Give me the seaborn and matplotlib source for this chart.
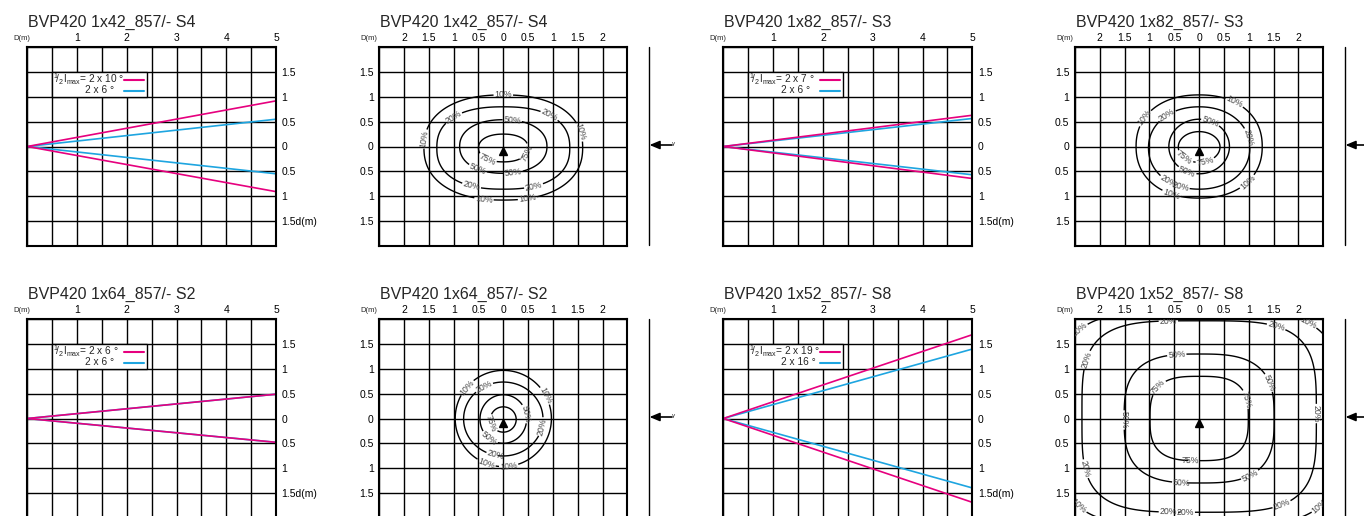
import numpy as np
import matplotlib
matplotlib.use("Agg")
import matplotlib.pyplot as plt
from matplotlib.patches import Rectangle, FancyArrowPatch
from matplotlib.lines import Line2D
import seaborn as sns

# ---- beam spread panels (side view), half-width of the beam at d = 5 m ----
beam_titles = ["BVP420 1x42_857/- S4", "BVP420 1x82_857/- S3",
               "BVP420 1x64_857/- S2", "BVP420 1x52_857/- S8"]
beam_angle_1 = ["2 x 10 °", "2 x 7 °", "2 x 6 °", "2 x 19 °"]
beam_angle_2 = ["2 x 6 °", "2 x 6 °", "2 x 6 °", "2 x 16 °"]
beam_d = [0, 5]
pink_upper = [0.92, 0.63, 0.49, 1.69]
pink_lower = [-0.91, -0.645, -0.48, -1.69]
blue_upper = [0.55, 0.565, 0.49, 1.40]
blue_lower = [-0.55, -0.57, -0.48, -1.40]

# ---- illuminance contour panels (front view) ----
iso_titles = ["BVP420 1x42_857/- S4", "BVP420 1x82_857/- S3",
              "BVP420 1x64_857/- S2", "BVP420 1x52_857/- S8"]
iso_levels = ["10%", "20%", "50%", "75%"]
# half extent in x / y (m), squareness exponent, vertical centre offset
iso_ax = [[1.60, 1.34, 0.88, 0.50],
          [1.27, 1.02, 0.61, 0.42],
          [0.97, 0.80, 0.47, 0.26],
          [2.82, 2.36, 1.51, 0.99]]
iso_by = [[1.06, 0.83, 0.54, 0.28],
          [1.04, 0.83, 0.55, 0.31],
          [0.97, 0.745, 0.49, 0.255],
          [2.16, 1.93, 1.30, 0.85]]
iso_pw = [[2.3, 2.4, 2.2, 2.2],
          [2.2, 2.1, 2.0, 2.0],
          [2.0, 2.0, 2.0, 2.0],
          [4.0, 3.8, 3.0, 3.0]]
iso_cy = [[-0.02, -0.03, 0.0, -0.03],
          [0.0, -0.03, 0.0, -0.01],
          [0.0, -0.01, -0.01, -0.02],
          [0.0, 0.04, 0.0, 0.0]]
# where the percentage labels sit on each curve
iso_label_pos = [
    {"10%": [(0, 1.04), (-1.57, 0.15), (1.52, 0.28), (-0.39, -1.06), (0.48, -0.99)],
     "20%": [(-1.0, 0.58), (0.92, 0.61), (-0.63, -0.75), (0.6, -0.75)],
     "50%": [(0.18, 0.52), (-0.52, -0.46), (0.2, -0.52)],
     "75%": [(-0.32, -0.25), (0.52, -0.15)]},
    {"10%": [(0.69, 0.85), (-1.09, 0.57), (-0.56, -0.96), (0.94, -0.68)],
     "20%": [(-0.66, 0.65), (0.97, 0.18), (-0.62, -0.7), (-0.38, -0.8)],
     "50%": [(0.22, 0.48), (-0.25, -0.52)],
     "75%": [(-0.29, -0.22), (0.11, -0.25)]},
    {"10%": [(-0.74, 0.63), (0.85, 0.46), (-0.36, -0.95), (0.11, -0.97)],
     "20%": [(-0.4, 0.66), (0.79, -0.17), (-0.16, -0.78)],
     "50%": [(0.43, 0.09), (-0.29, -0.41)],
     "75%": [(-0.26, -0.11)]},
    {"10%": [(-2.4, 1.78), (2.17, 1.88), (-2.38, -1.72), (2.37, -1.71)],
     "20%": [(-0.62, 1.95), (1.5, 1.68), (-2.13, 1.14), (2.34, 0.1),
             (-2.23, -1.0), (1.63, -1.65), (-0.62, -1.92), (-0.28, -1.92)],
     "50%": [(-0.45, 1.28), (1.36, 0.7), (-1.56, -0.03), (0.99, -1.08),
             (-0.35, -1.3)],
     "75%": [(-0.79, 0.6), (0.89, 0.37), (-0.18, -0.84)]},
]

PINK = "#E6007E"
BLUE = "#1EA5E0"
W, H = 1364, 516

sns.set_style("white")
plt.rcParams["font.family"] = ["Liberation Sans", "DejaVu Sans"]
plt.rcParams["mathtext.fontset"] = "custom"
plt.rcParams["mathtext.rm"] = "Liberation Sans"
plt.rcParams["mathtext.it"] = "Liberation Sans:italic"

fig = plt.figure(figsize=(W / 100, H / 100), dpi=100)


def make_axes(left, top, right, bottom):
    """ Adds an axes placed by its pixel box (y measured from the top). """
    ax = fig.add_axes([left / W, (H - bottom) / H, (right - left) / W,
                       (bottom - top) / H])
    for s in ax.spines.values():
        s.set_color("black")
        s.set_linewidth(1.5)
    ax.grid(True, color="black", lw=1.0)
    ax.set_axisbelow(True)
    ax.tick_params(length=0, labelsize=7.5, colors="black")
    return ax


def add_title(ax, text, dx):
    ax.text(0.004, 1.126, text, transform=ax.transAxes, fontsize=11.5,
            ha="left", va="center")
    ax.text(dx, 1.044, "D(m)", transform=ax.transAxes, fontsize=5.5,
            ha="right", va="center")


def plot_beam(ax, i):
    """ Side view: beam lines from the luminaire at d = 0. """
    ax.set_xlim(0, 5)
    ax.set_ylim(-2, 2)
    ax.set_xticks(np.arange(0, 5.01, 0.5))
    ax.set_xticklabels(["", "", "1", "", "2", "", "3", "", "4", "", "5"])
    ax.set_yticks(np.arange(-2, 2.01, 0.5))
    ax.set_yticklabels(["", "1.5d(m)", "1", "0.5", "0", "0.5", "1", "1.5", ""])
    ax.xaxis.tick_top()
    ax.yaxis.tick_right()
    ax.tick_params(axis="x", pad=3)
    ax.tick_params(axis="y", pad=4)

    for up, lo, col in [(blue_upper[i], blue_lower[i], BLUE),
                        (pink_upper[i], pink_lower[i], PINK)]:
        sns.lineplot(x=beam_d, y=[0, up], color=col, lw=1.2, ax=ax)
        sns.lineplot(x=beam_d, y=[0, lo], color=col, lw=1.2, ax=ax)

    # legend box
    ax.add_patch(Rectangle((0.5, 1.0), 1.91, 0.5, facecolor="white",
                           edgecolor="black", lw=1.0, zorder=5))
    ax.text(0.52, 1.36, r"$^{1}\!/_{2}\mathrm{I}_{\mathrm{max}}$= " + beam_angle_1[i],
            fontsize=7.3, ha="left", va="center", zorder=6)
    ax.text(1.16, 1.13, beam_angle_2[i], fontsize=7.3, ha="left",
            va="center", zorder=6)
    ax.plot([1.95, 2.35], [1.34, 1.34], color=PINK, lw=1.5, zorder=6)
    ax.plot([1.95, 2.35], [1.12, 1.12], color=BLUE, lw=1.5, zorder=6)
    ax.set_xlabel("")
    ax.set_ylabel("")
    add_title(ax, beam_titles[i], 0.011)


def plot_iso(ax, i):
    """ Front view: iso-illuminance curves with percentage labels. """
    ax.set_xlim(-2.5, 2.5)
    ax.set_ylim(-2, 2)
    ax.set_xticks(np.arange(-2.5, 2.51, 0.5))
    ax.set_xticklabels(["", "2", "1.5", "1", "0.5", "0", "0.5", "1", "1.5",
                        "2", ""])
    ax.set_yticks(np.arange(-2, 2.01, 0.5))
    ax.set_yticklabels(["", "1.5", "1", "0.5", "0", "0.5", "1", "1.5", ""])
    ax.xaxis.tick_top()
    ax.tick_params(axis="x", pad=3)
    ax.tick_params(axis="y", pad=4)

    gx, gy = np.meshgrid(np.linspace(-2.6, 2.6, 520), np.linspace(-2.1, 2.1, 420))
    for k, lab in enumerate(iso_levels):
        field = (np.abs(gx) / iso_ax[i][k]) ** iso_pw[i][k] + \
                (np.abs(gy - iso_cy[i][k]) / iso_by[i][k]) ** iso_pw[i][k]
        cs = ax.contour(gx, gy, field, levels=[1.0], colors="black",
                        linewidths=1.0)
        ax.clabel(cs, fmt={1.0: lab}, manual=iso_label_pos[i][lab],
                  inline=True, inline_spacing=1, fontsize=6.3,
                  colors="#444444")
    ax.plot([0], [-0.09], marker="^", color="black", ms=6, zorder=6)
    add_title(ax, iso_titles[i], -0.009)


rows = [(47.3, 245.7), (319.3, 517.7)]
beam_cols = [(27.3, 276.0), (723.3, 972.3)]
iso_cols = [(379.3, 627.3), (1075.0, 1323.3)]

for r, (top, bot) in enumerate(rows):
    for c in range(2):
        idx = r * 2 + c
        ax = make_axes(beam_cols[c][0], top, beam_cols[c][1], bot)
        plot_beam(ax, idx)
        ax = make_axes(iso_cols[c][0], top, iso_cols[c][1], bot)
        plot_iso(ax, idx)

# luminaire direction markers between the panels
for (top, bot), ya in zip([(47, 245), (319, 530)], [145, 417]):
    for xl, x_tail in [(648.5, 672), (1344.5, 1372)]:
        fig.add_artist(Line2D([xl / W, xl / W], [(H - top) / H, (H - bot) / H],
                              transform=fig.transFigure, color="black", lw=1.0))
        fig.add_artist(FancyArrowPatch(
            posA=(x_tail / W, (H - ya) / H), posB=((xl + 1) / W, (H - ya) / H),
            transform=fig.transFigure, arrowstyle="-|>,head_length=0.6,head_width=0.25",
            mutation_scale=10, color="black", lw=1.2, shrinkA=0, shrinkB=0))
        if x_tail < W:
            fig.text((x_tail + 2) / W, (H - ya + 1) / H, "γ", fontsize=4.5,
                     ha="center", va="center")

fig.savefig("out.png", dpi=100)
